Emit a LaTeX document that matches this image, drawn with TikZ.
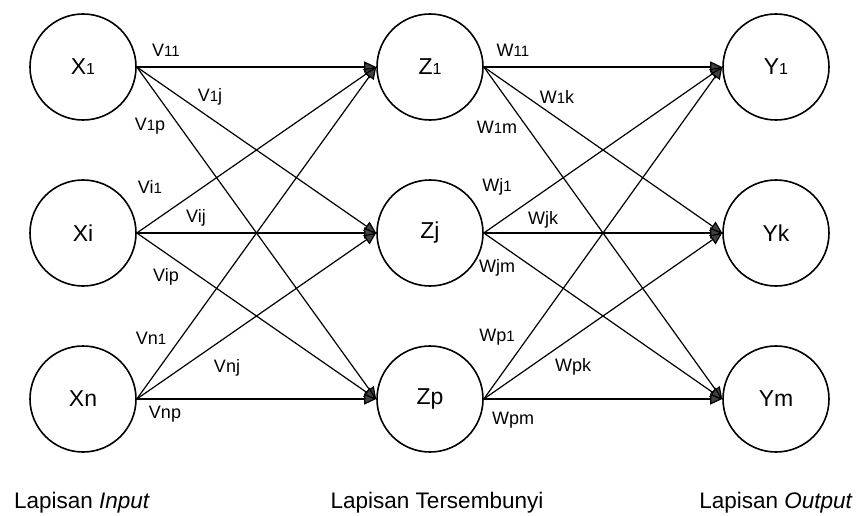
\documentclass[tikz,border=0pt]{standalone}
\usepackage{fontspec}
\setmainfont{Liberation Sans}
\usetikzlibrary{arrows.meta}
\newcommand\dg[1]{{\fontsize{15}{15}\selectfont #1}}
\newcommand\ndg[1]{{\fontsize{16}{16}\selectfont #1}}
\begin{document}
\begin{tikzpicture}[x=1pt,y=-1pt,
  neuron/.style={circle,draw,line width=1.6pt,minimum size=106pt,inner sep=0pt,font=\fontsize{23}{23}\selectfont},
  wlabel/.style={font=\fontsize{18}{18}\selectfont,inner sep=0pt,anchor=center},
  layer/.style={font=\fontsize{22.5}{22.5}\selectfont,inner sep=0pt,anchor=base},
  conn/.style={line width=1.2pt,-{Triangle[length=12pt,width=11pt,fill=black!75]}}
]
\useasboundingbox (0,0) rectangle (859,516);
% neurons
\node[neuron] (x1) at (83,67) {X\ndg{1}};
\node[neuron] (xi) at (83,233) {Xi};
\node[neuron] (xn) at (83,399) {Xn};
\node[neuron] (z1) at (430,67) {Z\ndg{1}};
\node[neuron] (zj) at (430,233) {Zj};
\node[neuron] (zp) at (430,399) {Zp};
\node[neuron] (y1) at (776,67) {Y\ndg{1}};
\node[neuron] (yk) at (776,233) {Yk};
\node[neuron] (ym) at (776,399) {Ym};
% connections input -> hidden
\foreach \a in {x1,xi,xn}{
  \foreach \b in {z1,zj,zp}{
    \draw[conn] (\a.east) -- (\b.west);
  }
}
% connections hidden -> output
\foreach \a in {z1,zj,zp}{
  \foreach \b in {y1,yk,ym}{
    \draw[conn] (\a.east) -- (\b.west);
  }
}
% weight labels V
\node[wlabel] (v11) at (166,50) {V\dg{11}};
\node[wlabel] (v1j) at (210,97) {V\dg{1}j};
\node[wlabel] (v1p) at (150,126) {V\dg{1}p};
\node[wlabel] (vi1) at (150,187) {Vi\dg{1}};
\node[wlabel] (vij) at (196,218) {Vij};
\node[wlabel] (vip) at (166,277) {Vip};
\node[wlabel] (vn1) at (151,338) {Vn\dg{1}};
\node[wlabel] (vnj) at (227,368) {Vnj};
\node[wlabel] (vnp) at (165,414) {Vnp};
% weight labels W
\node[wlabel] (w11) at (513,50) {W\dg{11}};
\node[wlabel] (w1k) at (557,97) {W\dg{1}k};
\node[wlabel] (w1m) at (497,127) {W\dg{1}m};
\node[wlabel] (wj1) at (497,187) {Wj\dg{1}};
\node[wlabel] (wjk) at (543,220) {Wjk};
\node[wlabel] (wjm) at (497,268) {Wjm};
\node[wlabel] (wp1) at (497,337) {Wp\dg{1}};
\node[wlabel] (wpk) at (573,367) {Wpk};
\node[wlabel] (wpm) at (513,420) {Wpm};
% layer labels
\node[layer] (lin) at (82,508) {Lapisan \textit{Input}};
\node[layer] (lhid) at (437,508) {Lapisan Tersembunyi};
\node[layer] (lout) at (776,508) {Lapisan \textit{Output}};
\end{tikzpicture}
\end{document}
